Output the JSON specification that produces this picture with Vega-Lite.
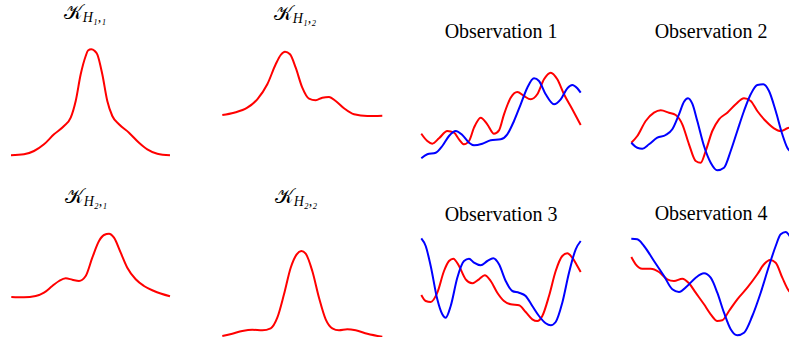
{
"$schema":"https://vega.github.io/schema/vega-lite/v6.json",
"padding":{"left":7,"top":3,"right":0,"bottom":0},
"config":{"view":{"stroke":null},"title":{"font":"Liberation Serif","fontSize":20,"fontWeight":"normal","color":"#000000","offset":4,"subtitleFont":"Liberation Serif","subtitleFontSize":14,"subtitleFontStyle":"italic","subtitleColor":"#000000","subtitlePadding":-12}},
"datasets":{"d":[
{"p":"a","s":"r","x":0.0,"y":0.177},{"p":"a","s":"r","x":0.13,"y":0.187},{"p":"a","s":"r","x":0.23,"y":0.22},{"p":"a","s":"r","x":0.33,"y":0.287},{"p":"a","s":"r","x":0.43,"y":0.387},{"p":"a","s":"r","x":0.53,"y":0.47},{"p":"a","s":"r","x":0.597,"y":0.553},{"p":"a","s":"r","x":0.647,"y":0.72},{"p":"a","s":"r","x":0.697,"y":0.987},{"p":"a","s":"r","x":0.747,"y":1.17},{"p":"a","s":"r","x":0.77,"y":1.225},{"p":"a","s":"r","x":0.803,"y":1.237},{"p":"a","s":"r","x":0.835,"y":1.222},{"p":"a","s":"r","x":0.863,"y":1.187},{"p":"a","s":"r","x":0.913,"y":0.987},{"p":"a","s":"r","x":0.963,"y":0.72},{"p":"a","s":"r","x":1.013,"y":0.57},{"p":"a","s":"r","x":1.08,"y":0.487},{"p":"a","s":"r","x":1.18,"y":0.403},{"p":"a","s":"r","x":1.28,"y":0.303},{"p":"a","s":"r","x":1.363,"y":0.237},{"p":"a","s":"r","x":1.463,"y":0.193},{"p":"a","s":"r","x":1.59,"y":0.177},
{"p":"b","s":"r","x":0.013,"y":0.58},{"p":"b","s":"r","x":0.13,"y":0.603},{"p":"b","s":"r","x":0.263,"y":0.653},{"p":"b","s":"r","x":0.363,"y":0.737},{"p":"b","s":"r","x":0.463,"y":0.887},{"p":"b","s":"r","x":0.547,"y":1.087},{"p":"b","s":"r","x":0.597,"y":1.18},{"p":"b","s":"r","x":0.64,"y":1.213},{"p":"b","s":"r","x":0.69,"y":1.187},{"p":"b","s":"r","x":0.747,"y":1.053},{"p":"b","s":"r","x":0.813,"y":0.853},{"p":"b","s":"r","x":0.88,"y":0.743},{"p":"b","s":"r","x":0.947,"y":0.727},{"p":"b","s":"r","x":1.013,"y":0.753},{"p":"b","s":"r","x":1.08,"y":0.76},{"p":"b","s":"r","x":1.147,"y":0.72},{"p":"b","s":"r","x":1.23,"y":0.647},{"p":"b","s":"r","x":1.33,"y":0.587},{"p":"b","s":"r","x":1.463,"y":0.57},{"p":"b","s":"r","x":1.613,"y":0.573},
{"p":"c","s":"r","x":0.003,"y":0.393},{"p":"c","s":"r","x":0.063,"y":0.32},{"p":"c","s":"r","x":0.113,"y":0.293},{"p":"c","s":"r","x":0.18,"y":0.347},{"p":"c","s":"r","x":0.263,"y":0.42},{"p":"c","s":"r","x":0.33,"y":0.403},{"p":"c","s":"r","x":0.38,"y":0.337},{"p":"c","s":"r","x":0.43,"y":0.287},{"p":"c","s":"r","x":0.48,"y":0.32},{"p":"c","s":"r","x":0.53,"y":0.453},{"p":"c","s":"r","x":0.597,"y":0.553},{"p":"c","s":"r","x":0.663,"y":0.487},{"p":"c","s":"r","x":0.73,"y":0.393},{"p":"c","s":"r","x":0.78,"y":0.427},{"p":"c","s":"r","x":0.83,"y":0.587},{"p":"c","s":"r","x":0.897,"y":0.753},{"p":"c","s":"r","x":0.963,"y":0.81},{"p":"c","s":"r","x":1.03,"y":0.77},{"p":"c","s":"r","x":1.097,"y":0.737},{"p":"c","s":"r","x":1.163,"y":0.787},{"p":"c","s":"r","x":1.23,"y":0.937},{"p":"c","s":"r","x":1.297,"y":1.003},{"p":"c","s":"r","x":1.363,"y":0.937},{"p":"c","s":"r","x":1.43,"y":0.787},{"p":"c","s":"r","x":1.513,"y":0.637},{"p":"c","s":"r","x":1.597,"y":0.48},
{"p":"c","s":"s","x":0.003,"y":0.147},{"p":"c","s":"s","x":0.063,"y":0.187},{"p":"c","s":"s","x":0.147,"y":0.203},{"p":"c","s":"s","x":0.213,"y":0.27},{"p":"c","s":"s","x":0.28,"y":0.37},{"p":"c","s":"s","x":0.347,"y":0.42},{"p":"c","s":"s","x":0.413,"y":0.38},{"p":"c","s":"s","x":0.48,"y":0.303},{"p":"c","s":"s","x":0.53,"y":0.277},{"p":"c","s":"s","x":0.613,"y":0.293},{"p":"c","s":"s","x":0.697,"y":0.327},{"p":"c","s":"s","x":0.797,"y":0.337},{"p":"c","s":"s","x":0.863,"y":0.387},{"p":"c","s":"s","x":0.93,"y":0.52},{"p":"c","s":"s","x":0.997,"y":0.687},{"p":"c","s":"s","x":1.063,"y":0.853},{"p":"c","s":"s","x":1.13,"y":0.947},{"p":"c","s":"s","x":1.18,"y":0.92},{"p":"c","s":"s","x":1.247,"y":0.787},{"p":"c","s":"s","x":1.33,"y":0.687},{"p":"c","s":"s","x":1.397,"y":0.737},{"p":"c","s":"s","x":1.463,"y":0.847},{"p":"c","s":"s","x":1.513,"y":0.88},{"p":"c","s":"s","x":1.563,"y":0.847},{"p":"c","s":"s","x":1.597,"y":0.803},
{"p":"d","s":"r","x":0.003,"y":0.303},{"p":"d","s":"r","x":0.063,"y":0.37},{"p":"d","s":"r","x":0.147,"y":0.52},{"p":"d","s":"r","x":0.23,"y":0.603},{"p":"d","s":"r","x":0.297,"y":0.627},{"p":"d","s":"r","x":0.38,"y":0.603},{"p":"d","s":"r","x":0.447,"y":0.58},{"p":"d","s":"r","x":0.513,"y":0.487},{"p":"d","s":"r","x":0.58,"y":0.287},{"p":"d","s":"r","x":0.647,"y":0.12},{"p":"d","s":"r","x":0.697,"y":0.103},{"p":"d","s":"r","x":0.747,"y":0.22},{"p":"d","s":"r","x":0.813,"y":0.42},{"p":"d","s":"r","x":0.88,"y":0.537},{"p":"d","s":"r","x":0.963,"y":0.603},{"p":"d","s":"r","x":1.047,"y":0.687},{"p":"d","s":"r","x":1.13,"y":0.747},{"p":"d","s":"r","x":1.197,"y":0.72},{"p":"d","s":"r","x":1.263,"y":0.62},{"p":"d","s":"r","x":1.347,"y":0.52},{"p":"d","s":"r","x":1.43,"y":0.447},{"p":"d","s":"r","x":1.497,"y":0.42},{"p":"d","s":"r","x":1.563,"y":0.447},{"p":"d","s":"r","x":1.613,"y":0.46},
{"p":"d","s":"s","x":0.003,"y":0.303},{"p":"d","s":"s","x":0.063,"y":0.253},{"p":"d","s":"s","x":0.113,"y":0.243},{"p":"d","s":"s","x":0.18,"y":0.287},{"p":"d","s":"s","x":0.263,"y":0.353},{"p":"d","s":"s","x":0.347,"y":0.38},{"p":"d","s":"s","x":0.413,"y":0.437},{"p":"d","s":"s","x":0.48,"y":0.587},{"p":"d","s":"s","x":0.53,"y":0.713},{"p":"d","s":"s","x":0.57,"y":0.747},{"p":"d","s":"s","x":0.613,"y":0.693},{"p":"d","s":"s","x":0.663,"y":0.52},{"p":"d","s":"s","x":0.73,"y":0.27},{"p":"d","s":"s","x":0.797,"y":0.103},{"p":"d","s":"s","x":0.863,"y":0.027},{"p":"d","s":"s","x":0.93,"y":0.053},{"p":"d","s":"s","x":0.997,"y":0.22},{"p":"d","s":"s","x":1.063,"y":0.42},{"p":"d","s":"s","x":1.13,"y":0.62},{"p":"d","s":"s","x":1.197,"y":0.787},{"p":"d","s":"s","x":1.263,"y":0.88},{"p":"d","s":"s","x":1.323,"y":0.887},{"p":"d","s":"s","x":1.38,"y":0.82},{"p":"d","s":"s","x":1.447,"y":0.62},{"p":"d","s":"s","x":1.513,"y":0.387},{"p":"d","s":"s","x":1.563,"y":0.253},{"p":"d","s":"s","x":1.613,"y":0.203},
{"p":"e","s":"r","x":0.003,"y":0.41},{"p":"e","s":"r","x":0.13,"y":0.407},{"p":"e","s":"r","x":0.247,"y":0.42},{"p":"e","s":"r","x":0.33,"y":0.453},{"p":"e","s":"r","x":0.413,"y":0.52},{"p":"e","s":"r","x":0.48,"y":0.57},{"p":"e","s":"r","x":0.547,"y":0.597},{"p":"e","s":"r","x":0.613,"y":0.583},{"p":"e","s":"r","x":0.68,"y":0.57},{"p":"e","s":"r","x":0.747,"y":0.62},{"p":"e","s":"r","x":0.813,"y":0.803},{"p":"e","s":"r","x":0.88,"y":0.97},{"p":"e","s":"r","x":0.93,"y":1.03},{"p":"e","s":"r","x":0.98,"y":1.043},{"p":"e","s":"r","x":1.03,"y":1.003},{"p":"e","s":"r","x":1.097,"y":0.853},{"p":"e","s":"r","x":1.163,"y":0.703},{"p":"e","s":"r","x":1.247,"y":0.587},{"p":"e","s":"r","x":1.33,"y":0.52},{"p":"e","s":"r","x":1.43,"y":0.47},{"p":"e","s":"r","x":1.59,"y":0.417},
{"p":"f","s":"r","x":0.013,"y":0.02},{"p":"f","s":"r","x":0.113,"y":0.043},{"p":"f","s":"r","x":0.213,"y":0.07},{"p":"f","s":"r","x":0.313,"y":0.083},{"p":"f","s":"r","x":0.413,"y":0.077},{"p":"f","s":"r","x":0.497,"y":0.097},{"p":"f","s":"r","x":0.563,"y":0.203},{"p":"f","s":"r","x":0.63,"y":0.437},{"p":"f","s":"r","x":0.697,"y":0.703},{"p":"f","s":"r","x":0.757,"y":0.837},{"p":"f","s":"r","x":0.803,"y":0.87},{"p":"f","s":"r","x":0.847,"y":0.843},{"p":"f","s":"r","x":0.913,"y":0.67},{"p":"f","s":"r","x":0.98,"y":0.403},{"p":"f","s":"r","x":1.047,"y":0.187},{"p":"f","s":"r","x":1.113,"y":0.097},{"p":"f","s":"r","x":1.18,"y":0.077},{"p":"f","s":"r","x":1.263,"y":0.087},{"p":"f","s":"r","x":1.347,"y":0.077},{"p":"f","s":"r","x":1.463,"y":0.043},{"p":"f","s":"r","x":1.613,"y":0.013},
{"p":"g","s":"r","x":0.003,"y":0.43},{"p":"g","s":"r","x":0.047,"y":0.37},{"p":"g","s":"r","x":0.097,"y":0.36},{"p":"g","s":"r","x":0.163,"y":0.453},{"p":"g","s":"r","x":0.23,"y":0.67},{"p":"g","s":"r","x":0.28,"y":0.77},{"p":"g","s":"r","x":0.323,"y":0.793},{"p":"g","s":"r","x":0.38,"y":0.72},{"p":"g","s":"r","x":0.447,"y":0.587},{"p":"g","s":"r","x":0.513,"y":0.547},{"p":"g","s":"r","x":0.58,"y":0.587},{"p":"g","s":"r","x":0.637,"y":0.627},{"p":"g","s":"r","x":0.697,"y":0.57},{"p":"g","s":"r","x":0.763,"y":0.453},{"p":"g","s":"r","x":0.83,"y":0.37},{"p":"g","s":"r","x":0.897,"y":0.337},{"p":"g","s":"r","x":0.98,"y":0.327},{"p":"g","s":"r","x":1.047,"y":0.26},{"p":"g","s":"r","x":1.113,"y":0.187},{"p":"g","s":"r","x":1.163,"y":0.17},{"p":"g","s":"r","x":1.213,"y":0.22},{"p":"g","s":"r","x":1.28,"y":0.42},{"p":"g","s":"r","x":1.347,"y":0.67},{"p":"g","s":"r","x":1.413,"y":0.82},{"p":"g","s":"r","x":1.463,"y":0.847},{"p":"g","s":"r","x":1.513,"y":0.803},{"p":"g","s":"r","x":1.563,"y":0.72},{"p":"g","s":"r","x":1.597,"y":0.66},
{"p":"g","s":"s","x":0.003,"y":0.997},{"p":"g","s":"s","x":0.047,"y":0.92},{"p":"g","s":"s","x":0.097,"y":0.72},{"p":"g","s":"s","x":0.163,"y":0.387},{"p":"g","s":"s","x":0.213,"y":0.237},{"p":"g","s":"s","x":0.247,"y":0.203},{"p":"g","s":"s","x":0.297,"y":0.32},{"p":"g","s":"s","x":0.363,"y":0.603},{"p":"g","s":"s","x":0.43,"y":0.77},{"p":"g","s":"s","x":0.48,"y":0.793},{"p":"g","s":"s","x":0.53,"y":0.753},{"p":"g","s":"s","x":0.597,"y":0.727},{"p":"g","s":"s","x":0.663,"y":0.77},{"p":"g","s":"s","x":0.723,"y":0.797},{"p":"g","s":"s","x":0.78,"y":0.737},{"p":"g","s":"s","x":0.847,"y":0.57},{"p":"g","s":"s","x":0.913,"y":0.47},{"p":"g","s":"s","x":0.98,"y":0.453},{"p":"g","s":"s","x":1.047,"y":0.42},{"p":"g","s":"s","x":1.113,"y":0.32},{"p":"g","s":"s","x":1.18,"y":0.22},{"p":"g","s":"s","x":1.247,"y":0.147},{"p":"g","s":"s","x":1.297,"y":0.127},{"p":"g","s":"s","x":1.347,"y":0.16},{"p":"g","s":"s","x":1.413,"y":0.353},{"p":"g","s":"s","x":1.48,"y":0.653},{"p":"g","s":"s","x":1.547,"y":0.887},{"p":"g","s":"s","x":1.597,"y":0.97},
{"p":"h","s":"r","x":0.003,"y":0.81},{"p":"h","s":"r","x":0.047,"y":0.737},{"p":"h","s":"r","x":0.113,"y":0.693},{"p":"h","s":"r","x":0.197,"y":0.693},{"p":"h","s":"r","x":0.28,"y":0.66},{"p":"h","s":"r","x":0.363,"y":0.587},{"p":"h","s":"r","x":0.43,"y":0.57},{"p":"h","s":"r","x":0.513,"y":0.593},{"p":"h","s":"r","x":0.58,"y":0.547},{"p":"h","s":"r","x":0.647,"y":0.453},{"p":"h","s":"r","x":0.73,"y":0.337},{"p":"h","s":"r","x":0.797,"y":0.237},{"p":"h","s":"r","x":0.863,"y":0.17},{"p":"h","s":"r","x":0.913,"y":0.177},{"p":"h","s":"r","x":0.98,"y":0.27},{"p":"h","s":"r","x":1.063,"y":0.387},{"p":"h","s":"r","x":1.163,"y":0.503},{"p":"h","s":"r","x":1.263,"y":0.637},{"p":"h","s":"r","x":1.33,"y":0.737},{"p":"h","s":"r","x":1.39,"y":0.78},{"p":"h","s":"r","x":1.447,"y":0.753},{"p":"h","s":"r","x":1.513,"y":0.603},{"p":"h","s":"r","x":1.58,"y":0.47},{"p":"h","s":"r","x":1.613,"y":0.447},
{"p":"h","s":"s","x":0.003,"y":0.993},{"p":"h","s":"s","x":0.063,"y":0.987},{"p":"h","s":"s","x":0.13,"y":0.92},{"p":"h","s":"s","x":0.23,"y":0.77},{"p":"h","s":"s","x":0.33,"y":0.62},{"p":"h","s":"s","x":0.413,"y":0.487},{"p":"h","s":"s","x":0.48,"y":0.46},{"p":"h","s":"s","x":0.563,"y":0.52},{"p":"h","s":"s","x":0.647,"y":0.603},{"p":"h","s":"s","x":0.73,"y":0.647},{"p":"h","s":"s","x":0.797,"y":0.603},{"p":"h","s":"s","x":0.863,"y":0.453},{"p":"h","s":"s","x":0.93,"y":0.253},{"p":"h","s":"s","x":0.997,"y":0.087},{"p":"h","s":"s","x":1.063,"y":0.027},{"p":"h","s":"s","x":1.13,"y":0.053},{"p":"h","s":"s","x":1.213,"y":0.22},{"p":"h","s":"s","x":1.297,"y":0.453},{"p":"h","s":"s","x":1.38,"y":0.72},{"p":"h","s":"s","x":1.447,"y":0.92},{"p":"h","s":"s","x":1.497,"y":1.037},{"p":"h","s":"s","x":1.547,"y":1.06},{"p":"h","s":"s","x":1.597,"y":1.003},{"p":"h","s":"s","x":1.623,"y":0.96}
]},
"data":{"name":"d"},
"columns":4,
"spacing":{"column":44,"row":56},
"bounds":"flush",
"concat":[
  {"width":162,"height":127,"title":{"text":"𝒦\u2003\u2009\u200b","subtitle":"\u200b\u2003\u2004H₁,₁","offset":20,"dx":-7},"transform":[{"filter":"datum.p=='a'"}],"mark":{"type":"line","strokeWidth":2,"interpolate":"monotone"},"encoding":{"x":{"field":"x","type":"quantitative","scale":{"domain":[0,1.62],"nice":false,"zero":false},"axis":null},"y":{"field":"y","type":"quantitative","scale":{"domain":[0,1.27],"nice":false,"zero":false},"axis":null},"color":{"field":"s","type":"nominal","scale":{"domain":["r","s"],"range":["#ff0000","#0000ff"]},"legend":null}}},
  {"width":162,"height":127,"title":{"text":"𝒦\u2003\u2009\u200b","subtitle":"\u200b\u2003\u2004H₁,₂","offset":20,"dx":-3},"transform":[{"filter":"datum.p=='b'"}],"mark":{"type":"line","strokeWidth":2,"interpolate":"monotone"},"encoding":{"x":{"field":"x","type":"quantitative","scale":{"domain":[-0.04,1.58],"nice":false,"zero":false},"axis":null},"y":{"field":"y","type":"quantitative","scale":{"domain":[0,1.27],"nice":false,"zero":false},"axis":null},"color":{"field":"s","type":"nominal","scale":{"domain":["r","s"],"range":["#ff0000","#0000ff"]},"legend":null}}},
  {"width":162,"height":127,"title":{"text":"Observation 1","dx":-3},"transform":[{"filter":"datum.p=='c'"}],"mark":{"type":"line","strokeWidth":2,"interpolate":"monotone"},"encoding":{"x":{"field":"x","type":"quantitative","scale":{"domain":[0.02,1.64],"nice":false,"zero":false},"axis":null},"y":{"field":"y","type":"quantitative","scale":{"domain":[0,1.27],"nice":false,"zero":false},"axis":null},"color":{"field":"s","type":"nominal","scale":{"domain":["r","s"],"range":["#ff0000","#0000ff"]},"legend":null}}},
  {"width":162,"height":127,"title":{"text":"Observation 2","dx":1},"transform":[{"filter":"datum.p=='d'"}],"mark":{"type":"line","strokeWidth":2,"interpolate":"monotone"},"encoding":{"x":{"field":"x","type":"quantitative","scale":{"domain":[-0.02,1.6],"nice":false,"zero":false},"axis":null},"y":{"field":"y","type":"quantitative","scale":{"domain":[0,1.27],"nice":false,"zero":false},"axis":null},"color":{"field":"s","type":"nominal","scale":{"domain":["r","s"],"range":["#ff0000","#0000ff"]},"legend":null}}},
  {"width":162,"height":109,"title":{"text":"𝒦\u2003\u2009\u200b","subtitle":"\u200b\u2003\u2004H₂,₁","offset":20,"dx":-6},"transform":[{"filter":"datum.p=='e'"}],"mark":{"type":"line","strokeWidth":2,"interpolate":"monotone"},"encoding":{"x":{"field":"x","type":"quantitative","scale":{"domain":[0,1.62],"nice":false,"zero":false},"axis":null},"y":{"field":"y","type":"quantitative","scale":{"domain":[0,1.09],"nice":false,"zero":false},"axis":null},"color":{"field":"s","type":"nominal","scale":{"domain":["r","s"],"range":["#ff0000","#0000ff"]},"legend":null}}},
  {"width":162,"height":109,"title":{"text":"𝒦\u2003\u2009\u200b","subtitle":"\u200b\u2003\u2004H₂,₂","offset":20,"dx":-2},"transform":[{"filter":"datum.p=='f'"}],"mark":{"type":"line","strokeWidth":2,"interpolate":"monotone"},"encoding":{"x":{"field":"x","type":"quantitative","scale":{"domain":[-0.04,1.58],"nice":false,"zero":false},"axis":null},"y":{"field":"y","type":"quantitative","scale":{"domain":[0,1.09],"nice":false,"zero":false},"axis":null},"color":{"field":"s","type":"nominal","scale":{"domain":["r","s"],"range":["#ff0000","#0000ff"]},"legend":null}}},
  {"width":162,"height":109,"title":{"text":"Observation 3","dx":-3},"transform":[{"filter":"datum.p=='g'"}],"mark":{"type":"line","strokeWidth":2,"interpolate":"monotone"},"encoding":{"x":{"field":"x","type":"quantitative","scale":{"domain":[0.02,1.64],"nice":false,"zero":false},"axis":null},"y":{"field":"y","type":"quantitative","scale":{"domain":[0,1.09],"nice":false,"zero":false},"axis":null},"color":{"field":"s","type":"nominal","scale":{"domain":["r","s"],"range":["#ff0000","#0000ff"]},"legend":null}}},
  {"width":162,"height":109,"title":{"text":"Observation 4","dx":1},"transform":[{"filter":"datum.p=='h'"}],"mark":{"type":"line","strokeWidth":2,"interpolate":"monotone"},"encoding":{"x":{"field":"x","type":"quantitative","scale":{"domain":[-0.02,1.6],"nice":false,"zero":false},"axis":null},"y":{"field":"y","type":"quantitative","scale":{"domain":[0,1.09],"nice":false,"zero":false},"axis":null},"color":{"field":"s","type":"nominal","scale":{"domain":["r","s"],"range":["#ff0000","#0000ff"]},"legend":null}}}
]
}
